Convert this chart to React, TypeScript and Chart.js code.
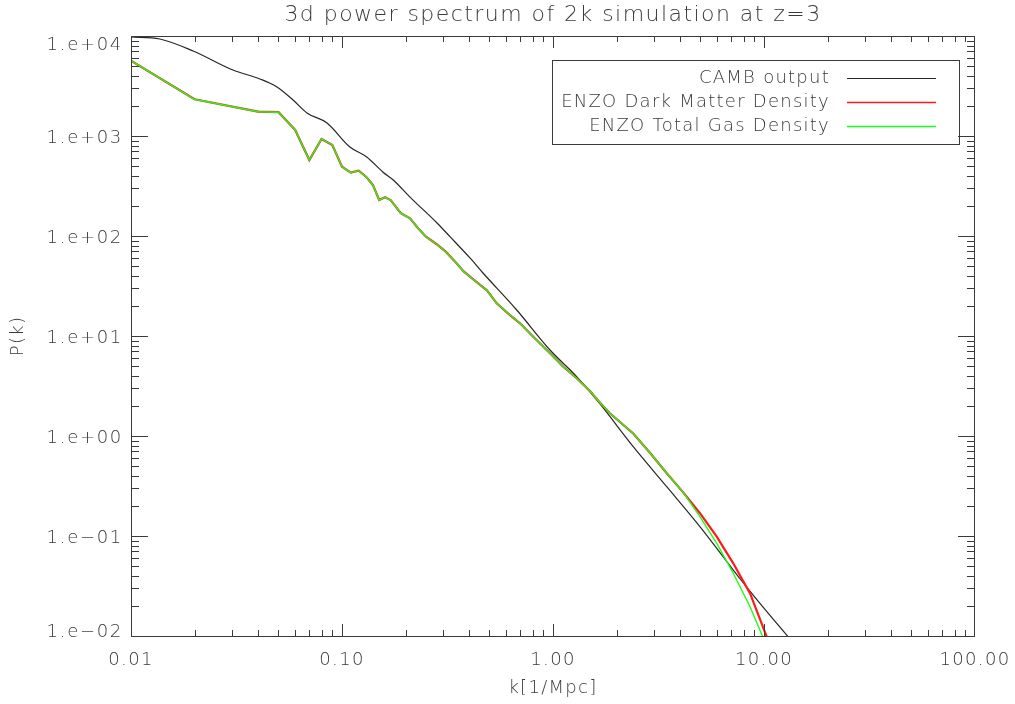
import React, { useEffect, useRef } from 'react';
import { Chart, registerables } from 'chart.js';

Chart.register(...registerables);

// CAMB linear power spectrum
const cambK = [0.01, 0.0137, 0.0197, 0.0304, 0.0408, 0.0492, 0.0586, 0.0682, 0.0849, 0.109, 0.131, 0.156, 0.175, 0.21, 0.282, 0.325, 0.404, 0.467, 0.673, 0.968, 1.295, 1.67, 2.4, 3.46, 4.97, 7.15, 9.57, 13.0];
const cambP = [9800, 9330, 7080, 4570, 3720, 3090, 2290, 1700, 1350, 776, 617, 437, 363, 245, 135, 98.5, 60.3, 42.4, 18.2, 7.24, 3.92, 2.09, 0.782, 0.311, 0.124, 0.0457, 0.0212, 0.00984];

// ENZO dark matter density spectrum
const dmK = [0.01, 0.02, 0.04, 0.05, 0.06, 0.07, 0.08, 0.09, 0.1, 0.11, 0.12, 0.13, 0.14, 0.15, 0.16, 0.17, 0.19, 0.21, 0.23, 0.25, 0.28, 0.31, 0.35, 0.376, 0.404, 0.451, 0.485, 0.541, 0.625, 0.698, 0.806, 0.968, 1.119, 1.295, 1.5, 1.67, 1.86, 2.4, 2.88, 3.46, 4.14, 4.97, 5.97, 7.15, 8.59, 10.3];
const dmP = [5660, 2330, 1750, 1730, 1150, 575, 933, 813, 493, 430, 450, 392, 324, 229, 244, 229, 169, 150, 119, 98.4, 83.2, 69.7, 53, 44.5, 39.2, 32.4, 28.8, 21.2, 16.2, 13.4, 9.84, 6.71, 4.93, 3.78, 2.8, 2.15, 1.69, 1.06, 0.681, 0.424, 0.273, 0.169, 0.0984, 0.0533, 0.0267, 0.00984];

// ENZO total gas density spectrum
const gasK = [0.01, 0.02, 0.04, 0.05, 0.06, 0.07, 0.08, 0.09, 0.1, 0.11, 0.12, 0.13, 0.14, 0.15, 0.16, 0.17, 0.19, 0.21, 0.23, 0.25, 0.28, 0.31, 0.35, 0.376, 0.404, 0.451, 0.485, 0.541, 0.625, 0.698, 0.806, 0.968, 1.119, 1.295, 1.5, 1.67, 1.86, 2.4, 2.88, 3.46, 4.14, 4.97, 5.97, 7.15, 8.59, 9.86];
const gasP = [5660, 2330, 1750, 1730, 1150, 575, 933, 813, 493, 430, 450, 392, 324, 229, 244, 229, 169, 150, 119, 98.4, 83.2, 69.7, 53, 44.5, 39.2, 32.4, 28.8, 21.2, 16.2, 13.4, 9.84, 6.71, 4.93, 3.78, 2.8, 2.15, 1.69, 1.06, 0.681, 0.424, 0.273, 0.156, 0.0845, 0.0424, 0.0196, 0.00984];

const xTickValues = [0.01, 0.1, 1, 10, 100];
const xTickLabels = ['0.01', '0.10', '1.00', '10.00', '100.00'];
const yTickValues = [1e4, 1e3, 1e2, 1e1, 1, 0.1, 0.01];
const yTickLabels = ['1.e+04', '1.e+03', '1.e+02', '1.e+01', '1.e+00', '1.e\u221201', '1.e\u221202'];

const seriesNames = ['CAMB output', 'ENZO Dark Matter Density', 'ENZO Total Gas Density'];
const seriesColors = ['#262626', '#ff1a1a', '#1aff1a'];

const TITLE = '3d power spectrum of 2k simulation at z=3';
const X_TITLE = 'k[1/Mpc]';
const Y_TITLE = 'P(k)';

const INK = '#3a3a3a';
const FONT = '"DejaVu Sans"';

const zip = (ks: number[], ps: number[]) => ks.map((k, i) => ({ x: k, y: ps[i] }));

function drawText(ctx: CanvasRenderingContext2D, s: string, x: number, y: number, size: number, align: CanvasTextAlign, spacing = 1) {
  ctx.font = `200 ${size}px ${FONT}`;
  (ctx as any).letterSpacing = `${spacing}px`;
  ctx.textAlign = align;
  ctx.textBaseline = 'middle';
  ctx.fillStyle = INK;
  ctx.fillText(s, x, y);
}

// IDL-style frame: inward ticks on all four sides, labels and boxed legend
const idlFrame = {
  id: 'idlFrame',
  afterDraw(chart: any) {
    const { ctx, chartArea: a, scales } = chart;
    const xs = scales.x;
    const ys = scales.y;
    ctx.save();
    ctx.strokeStyle = INK;
    ctx.lineWidth = 1;
    ctx.strokeRect(a.left + 0.5, a.top + 0.5, a.right - a.left - 1, a.bottom - a.top);

    ctx.beginPath();
    // x ticks
    for (let e = -2; e <= 1; e++) {
      for (let m = 1; m <= 9; m++) {
        const v = m * Math.pow(10, e);
        const px = Math.round(xs.getPixelForValue(v)) + 0.5;
        const len = m === 1 ? 12 : 6;
        ctx.moveTo(px, a.bottom);
        ctx.lineTo(px, a.bottom - len);
        ctx.moveTo(px, a.top);
        ctx.lineTo(px, a.top + len);
      }
    }
    // y ticks
    for (let e = -2; e <= 3; e++) {
      for (let m = 1; m <= 9; m++) {
        const v = m * Math.pow(10, e);
        const py = Math.round(ys.getPixelForValue(v)) + 0.5;
        const len = m === 1 ? 17 : 8;
        ctx.moveTo(a.left, py);
        ctx.lineTo(a.left + len, py);
        ctx.moveTo(a.right, py);
        ctx.lineTo(a.right - len, py);
      }
    }
    ctx.stroke();

    // tick labels
    xTickValues.forEach((v, i) => {
      drawText(ctx, xTickLabels[i], xs.getPixelForValue(v), a.bottom + 24, 18, 'center', 1.3);
    });
    yTickValues.forEach((v, i) => {
      const py = ys.getPixelForValue(v);
      const cy = Math.min(Math.max(py + 2, a.top + 9), a.bottom - 4);
      drawText(ctx, yTickLabels[i], a.left - 8, cy, 18, 'right', 1.7);
    });

    // titles
    const cx = (a.left + a.right) / 2;
    drawText(ctx, TITLE, cx, 15, 22, 'center', 1.45);
    drawText(ctx, X_TITLE, cx, a.bottom + 52, 18, 'center', 1.3);
    ctx.save();
    ctx.translate(18, (a.top + a.bottom) / 2);
    ctx.rotate(-Math.PI / 2);
    drawText(ctx, Y_TITLE, 0, 0, 18, 'center', 1.3);
    ctx.restore();

    // legend
    const box = { left: 552, top: 60, right: 959, bottom: 144 };
    ctx.strokeStyle = INK;
    ctx.lineWidth = 1;
    ctx.strokeRect(box.left + 0.5, box.top + 0.5, box.right - box.left, box.bottom - box.top);
    seriesNames.forEach((name, i) => {
      const y = box.top + 18 + i * 24;
      drawText(ctx, name, 830, y, 18, 'right', 1.25);
      ctx.beginPath();
      ctx.strokeStyle = seriesColors[i];
      ctx.lineWidth = i === 0 ? 1 : 1.5;
      ctx.moveTo(847, Math.round(y) + 0.5);
      ctx.lineTo(936, Math.round(y) + 0.5);
      ctx.stroke();
    });
    ctx.restore();
  },
};

export default function App() {
  const ref = useRef<HTMLCanvasElement | null>(null);

  useEffect(() => {
    if (!ref.current) return;
    const chart = new Chart(ref.current, {
      type: 'line',
      data: {
        datasets: [
          {
            label: seriesNames[0],
            data: zip(cambK, cambP),
            borderColor: seriesColors[0],
            borderWidth: 1.2,
            cubicInterpolationMode: 'monotone',
            pointRadius: 0,
            order: 2,
          },
          {
            label: seriesNames[1],
            data: zip(dmK, dmP),
            borderColor: seriesColors[1],
            borderWidth: 2.2,
            tension: 0,
            pointRadius: 0,
            order: 1,
          },
          {
            label: seriesNames[2],
            data: zip(gasK, gasP),
            borderColor: seriesColors[2],
            borderWidth: 1.4,
            tension: 0,
            pointRadius: 0,
            order: 0,
          },
        ],
      },
      options: {
        animation: false,
        responsive: false,
        devicePixelRatio: 1,
        layout: { padding: { top: 36, right: 40, left: 0, bottom: 0 } },
        plugins: {
          legend: { display: false },
          title: { display: false },
          tooltip: { enabled: false },
        },
        scales: {
          x: {
            type: 'logarithmic',
            min: 0.01,
            max: 100,
            grid: { display: false },
            border: { display: false },
            ticks: { display: false },
            afterFit: (s: any) => {
              s.height = 68;
            },
          },
          y: {
            type: 'logarithmic',
            min: 0.01,
            max: 1e4,
            grid: { display: false },
            border: { display: false },
            ticks: { display: false },
            afterFit: (s: any) => {
              s.width = 131;
            },
          },
        },
      },
      plugins: [idlFrame],
    });
    return () => chart.destroy();
  }, []);

  return (
    <div style={{ position: 'fixed', left: 0, top: 0, width: 1015, height: 704, background: '#fff' }}>
      <canvas ref={ref} width={1015} height={704} style={{ display: 'block' }} />
    </div>
  );
}
